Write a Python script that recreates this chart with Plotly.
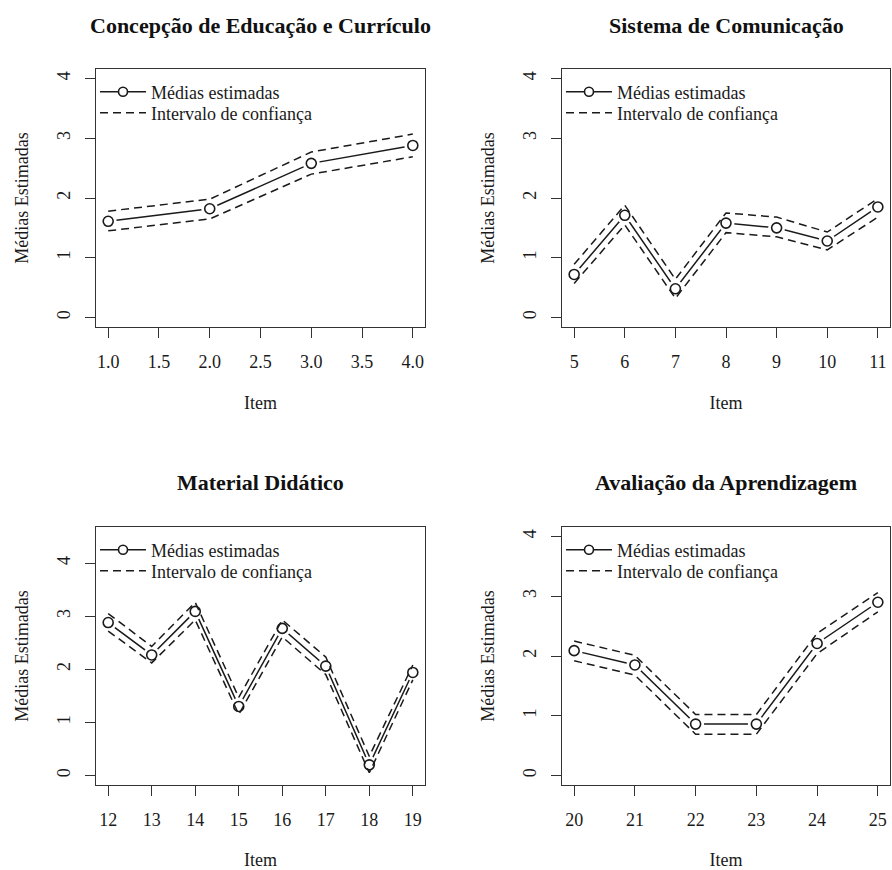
import plotly.graph_objects as go

# ---------------- data ----------------
titles = ["Concepção de Educação e Currículo", "Sistema de Comunicação",
          "Material Didático", "Avaliação da Aprendizagem"]

items1 = [1, 2, 3, 4]
mean1 = [1.61, 1.82, 2.58, 2.88]
upper1 = [1.78, 1.98, 2.77, 3.07]
lower1 = [1.45, 1.65, 2.40, 2.69]

items2 = [5, 6, 7, 8, 9, 10, 11]
mean2 = [0.72, 1.71, 0.48, 1.58, 1.50, 1.28, 1.85]
upper2 = [0.89, 1.88, 0.64, 1.75, 1.68, 1.43, 1.99]
lower2 = [0.57, 1.55, 0.32, 1.42, 1.35, 1.13, 1.68]

items3 = [12, 13, 14, 15, 16, 17, 18, 19]
mean3 = [2.88, 2.27, 3.09, 1.30, 2.77, 2.06, 0.20, 1.94]
upper3 = [3.05, 2.43, 3.26, 1.47, 2.93, 2.23, 0.36, 2.08]
lower3 = [2.72, 2.12, 2.93, 1.15, 2.61, 1.90, 0.05, 1.80]

items4 = [20, 21, 22, 23, 24, 25]
mean4 = [2.09, 1.85, 0.86, 0.86, 2.21, 2.90]
upper4 = [2.25, 2.01, 1.02, 1.02, 2.38, 3.06]
lower4 = [1.92, 1.68, 0.69, 0.69, 2.04, 2.74]

xticks1 = [1.0, 1.5, 2.0, 2.5, 3.0, 3.5, 4.0]
yticks = [0, 1, 2, 3, 4]
legend_names = ["Médias estimadas", "Intervalo de confiança"]
xlabel = "Item"
ylabel = "Médias Estimadas"

panels = [
    (items1, mean1, upper1, lower1, [0.88, 4.12], [-0.16, 4.16]),
    (items2, mean2, upper2, lower2, [4.76, 11.24], [-0.16, 4.16]),
    (items3, mean3, upper3, lower3, [11.72, 19.28], [-0.18, 4.68]),
    (items4, mean4, upper4, lower4, [19.8, 25.2], [-0.16, 4.16]),
]

# ---------------- layout geometry ----------------
W, H = 892, 870
FONT = "Liberation Serif, Times New Roman, serif"
INK = "#1a1a1a"
xdoms = [(96 / W, 425 / W), (562 / W, 890 / W), (96 / W, 425 / W), (562 / W, 890 / W)]
box_top = [69, 69, 527, 527]
box_bot = [327, 327, 785, 785]
ydoms = [(1 - box_bot[i] / H, 1 - box_top[i] / H) for i in range(4)]
title_y = [1 - 25 / H, 1 - 25 / H, 1 - 482 / H, 1 - 482 / H]

fig = go.Figure()
layout = dict(
    width=W, height=H,
    margin=dict(l=0, r=0, t=0, b=0),
    paper_bgcolor="white", plot_bgcolor="white",
    font=dict(family=FONT, size=18, color=INK),
    annotations=[],
)

dash_style = "8px,5px"


def legname(k):
    return "legend" if k == 1 else "legend" + str(k)


for i, (xs, m, up, lo, xr, yr) in enumerate(panels):
    n = "" if i == 0 else str(i + 1)
    xa, ya = "x" + n, "y" + n
    leg1 = legname(2 * i + 1)
    leg2 = legname(2 * i + 2)
    # mean line (gaps at points made by white halo)
    fig.add_trace(go.Scatter(x=xs, y=m, mode="lines", xaxis=xa, yaxis=ya,
                             line=dict(color=INK, width=1.5), showlegend=False,
                             hoverinfo="skip"))
    fig.add_trace(go.Scatter(x=xs, y=m, mode="markers", xaxis=xa, yaxis=ya,
                             marker=dict(symbol="circle", size=17, color="white",
                                         line=dict(width=0)),
                             showlegend=False, hoverinfo="skip"))
    fig.add_trace(go.Scatter(x=xs, y=m, mode="markers", xaxis=xa, yaxis=ya,
                             marker=dict(symbol="circle-open", size=10, color=INK,
                                         line=dict(width=1.6, color=INK)),
                             showlegend=False, name=legend_names[0]))
    # legend entry for the means (line + circle)
    fig.add_trace(go.Scatter(x=[None], y=[None], mode="lines+markers", xaxis=xa, yaxis=ya,
                             line=dict(color=INK, width=1.5),
                             marker=dict(symbol="circle", size=9, color="white",
                                         line=dict(width=1.6, color=INK)),
                             name=legend_names[0], legend=leg1))
    fig.add_trace(go.Scatter(x=xs, y=up, mode="lines", xaxis=xa, yaxis=ya,
                             line=dict(color=INK, width=1.5, dash=dash_style),
                             name=legend_names[1], legend=leg2))
    fig.add_trace(go.Scatter(x=xs, y=lo, mode="lines", xaxis=xa, yaxis=ya,
                             line=dict(color=INK, width=1.5, dash=dash_style),
                             name=legend_names[1], legend=leg2, showlegend=False))

    layout["xaxis" + n] = dict(
        domain=list(xdoms[i]), anchor=ya, range=xr,
        tickmode="array",
        tickvals=xticks1 if i == 0 else xs,
        ticktext=[f"{v:.1f}" for v in xticks1] if i == 0 else [str(v) for v in xs],
        ticks="outside", ticklen=10, tickwidth=1.3, tickcolor="#333",
        showline=True, mirror=True, linecolor="#333", linewidth=1.3,
        showgrid=False, zeroline=False, ticklabelstandoff=8,
        tickfont=dict(size=18, family=FONT, color=INK),
        title=dict(text=xlabel, standoff=25, font=dict(size=18, family=FONT, color=INK)),
    )
    layout["yaxis" + n] = dict(
        domain=list(ydoms[i]), anchor=xa, range=yr,
        tickmode="array", tickvals=yticks, ticktext=[str(v) for v in yticks],
        tickangle=-90,
        ticks="outside", ticklen=10, tickwidth=1.3, tickcolor="#333",
        showline=True, mirror=True, linecolor="#333", linewidth=1.3,
        showgrid=False, zeroline=False, ticklabelstandoff=8,
        tickfont=dict(size=18, family=FONT, color=INK),
        title=dict(text=ylabel, standoff=20, font=dict(size=18, family=FONT, color=INK)),
    )
    for leg, dy in ((leg1, 23), (leg2, 44)):
        layout[leg] = dict(
            x=(xdoms[i][0] * W - 1) / W, xanchor="left",
            y=1 - (box_top[i] + dy) / H, yanchor="middle",
            bgcolor="rgba(0,0,0,0)", borderwidth=0,
            font=dict(size=18, family=FONT, color=INK),
            itemwidth=46,
        )
    layout["annotations"].append(dict(
        text="<b>" + titles[i] + "</b>", xref="paper", yref="paper",
        x=(xdoms[i][0] + xdoms[i][1]) / 2, y=title_y[i],
        xanchor="center", yanchor="middle", showarrow=False,
        font=dict(size=22, family=FONT, color="#111"),
    ))

fig.update_layout(**layout)
fig.write_html(
    "out.html",
    config={"displayModeBar": False},
    post_script="document.body.style.margin='0';document.body.style.padding='0';"
                "document.documentElement.style.overflow='hidden';",
)
